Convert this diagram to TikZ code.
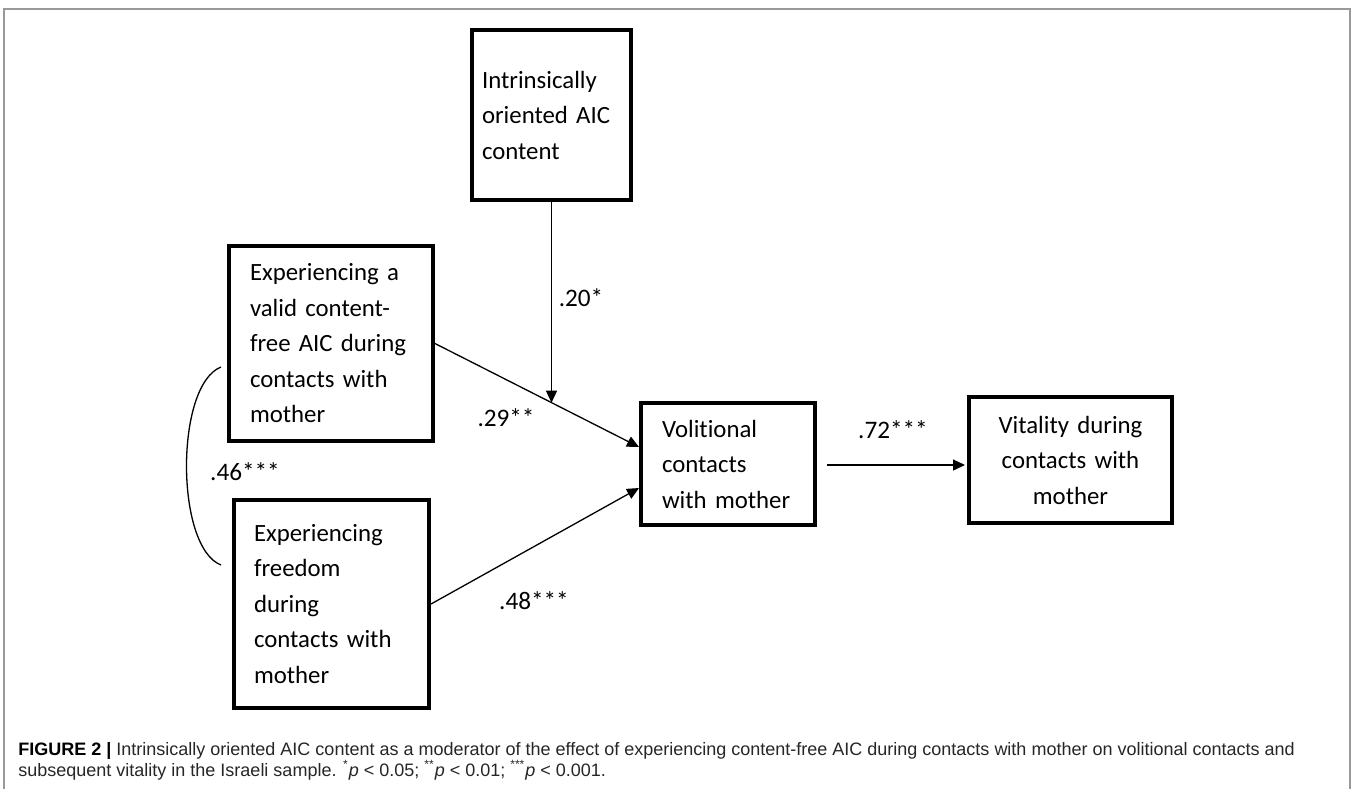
\documentclass[tikz,border=0pt]{standalone}
\usepackage{fontspec}
\setmainfont{Carlito}[Ligatures=NoCommon]
\newfontfamily\capfont{Liberation Sans}
\usetikzlibrary{arrows.meta}
\begin{document}
\begin{tikzpicture}[x=0.5pt,y=-0.5pt,
    box/.style={draw=black,line width=2pt,inner ysep=0pt,align=left,font=\fontsize{12.4}{17.75}\selectfont},
    coef/.style={inner sep=0pt,font=\fontsize{12.6}{14}\selectfont},
    arr/.style={line width=0.65pt,-{Triangle[length=6pt,width=5.5pt]}}]
                \useasboundingbox (0,0) rectangle (1352,789);
                \draw [black!40,line width=1pt] (4,789) -- (4,9) -- (1350,9) -- (1350,789);
                \node [box,inner xsep=5pt,text width=69.5pt,minimum height=85pt] (iaic) at (551.5,115) {Intrinsically\\oriented AIC\\content};
                \node [box,inner xsep=10.5pt,text width=81pt,minimum height=97.5pt] (valid) at (331,343.5) {Experiencing a\\valid content-\\free AIC during\\contacts with\\mother};
                \node [box,inner xsep=10pt,text width=77.5pt,minimum height=104pt] (free) at (331.5,604) {Experiencing\\freedom\\during\\contacts with\\mother};
                \node [box,inner xsep=10.5pt,text width=66pt,minimum height=61pt] (vol) at (728,464) {Volitional\\contacts\\with mother};
                \node [box,align=center,inner xsep=5pt,text width=91.5pt,minimum height=63pt] (vit) at (1070.5,460) {Vitality during\\contacts with\\mother};
                \draw [arr] (valid.east) -- coordinate[pos=0.572] (modpt) ([shift={(0,-17)}]vol.west);
                \draw [arr] (free.east) -- ([shift={(0,24)}]vol.west);
                \draw [arr] (iaic.south) -- (iaic.south |- modpt);
                \draw [arr] ([shift={(10,1)}]vol.east) -- ([shift={(-2,5)}]vit.west);
                \draw [line width=0.65pt] ([shift={(-6,23.5)}]valid.west) .. controls (175,385) and (175,547) .. ([shift={(-11,-39)}]free.west);
                \node [coef] (c20) at (581,298) {.20*};
                \node [coef] (c29) at (506,418) {.29**};
                \node [coef] (c46) at (245,472) {.46***};
                \node [coef] (c48) at (534,601) {.48***};
                \node [coef] (c72) at (893,430) {.72***};
                \node [anchor=north west,align=left,inner sep=0pt,text=black!85,font=\capfont\fontsize{9}{10.5}\selectfont] (cap) at (18,742) {\textbf{\color{black}FIGURE 2 |} Intrinsically oriented AIC content as a moderator of the effect of experiencing content-free AIC during contacts with mother on volitional contacts and\\subsequent vitality in the Israeli sample. \textsuperscript{*}\textit{p} < 0.05; \textsuperscript{**}\textit{p} < 0.01; \textsuperscript{***}\textit{p} < 0.001.};
              \end{tikzpicture}
\end{document}
